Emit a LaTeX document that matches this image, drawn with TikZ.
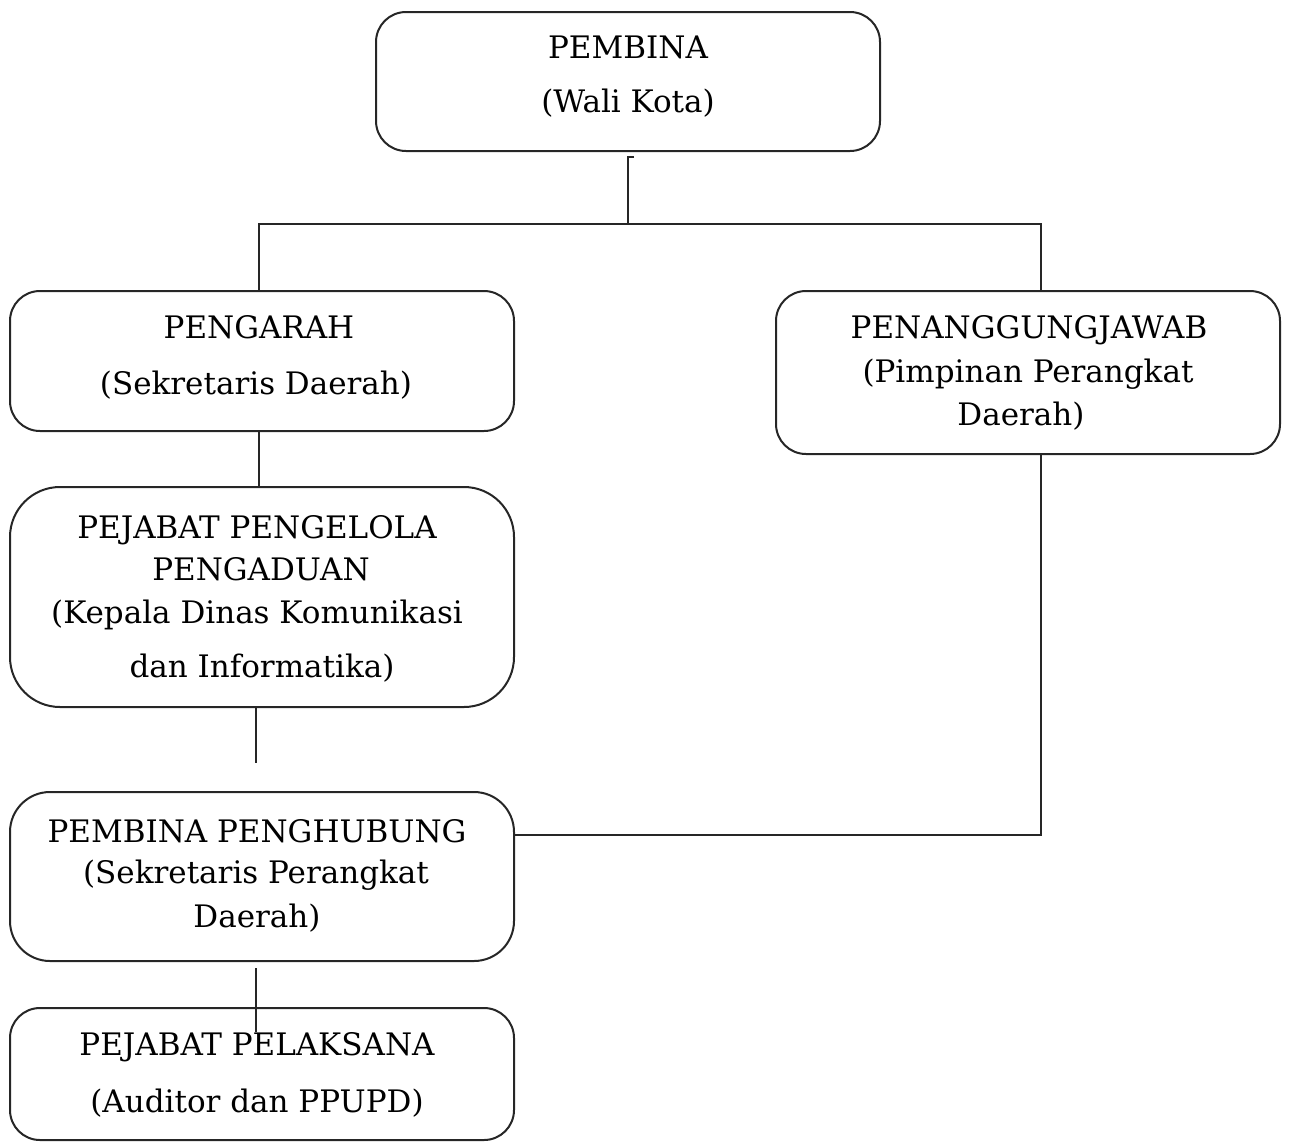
\documentclass[tikz,border=0pt]{standalone}
\usepackage{fontspec}
\setmainfont{DejaVu Serif}
\usetikzlibrary{calc}
\begin{document}
\begin{tikzpicture}[x=1pt,y=-1pt,
  box/.style={draw=black!85, line width=2pt, rectangle, inner sep=0pt, minimum width=504pt},
  conn/.style={draw=black!85, line width=2pt},
  lbl/.style={anchor=base, inner sep=0pt, font=\fontsize{31}{37}\selectfont, text=black}]
\useasboundingbox (0,0) rectangle (1290,1144);
% boxes
\node[box, rounded corners=30pt, minimum height=139pt] (pembina) at (628,81.5) {};
\node[box, rounded corners=30pt, minimum height=140pt] (pengarah) at (262,361) {};
\node[box, rounded corners=30pt, minimum height=163pt] (penanggung) at (1028,372.5) {};
\node[box, rounded corners=50pt, minimum height=220pt] (pengelola) at (262,597) {};
\node[box, rounded corners=40pt, minimum height=169pt] (penghubung) at (262,876.5) {};
\node[box, rounded corners=30pt, minimum height=132pt] (pelaksana) at (262,1074) {};
% coordinates
\coordinate (tick) at (634,157);
\coordinate (tickc) at (628,157);
\coordinate (junc) at (628,224);
\coordinate (jl) at (259,224);
\coordinate (jr) at (1041,224);
\coordinate (free1) at (256,763);
\coordinate (pr) at (1041,835);
\coordinate (t1) at (256,968);
\coordinate (t2) at (256,1032);
% connectors
\draw[conn] (tick) -- (tickc) -- (junc);
\draw[conn] (pengarah.north -| jl) -- (jl) -- (jr) -- (penanggung.north -| jr);
\draw[conn] (pengarah.south -| jl) -- (pengelola.north -| jl);
\draw[conn] (pengelola.south -| free1) -- (free1);
\draw[conn] (penanggung.south -| pr) -- (pr) -- (penghubung.east |- pr);
\draw[conn, line width=1.4pt] (t1) -- (t2);
% texts
\node[lbl] (a1) at (628,58) {PEMBINA};
\node[lbl] (a2) at (628,112) {(Wali Kota)};
\node[lbl] (b1) at (259,338) {PENGARAH};
\node[lbl] (b2) at (256,394) {(Sekretaris Daerah)};
\node[lbl] (c1) at (1029,338) {PENANGGUNGJAWAB};
\node[lbl] (c2) at (1028,382) {(Pimpinan Perangkat};
\node[lbl] (c3) at (1021,425) {Daerah)};
\node[lbl] (d1) at (257,538) {PEJABAT PENGELOLA};
\node[lbl] (d2) at (261,580) {PENGADUAN};
\node[lbl] (d3) at (257,623) {(Kepala Dinas Komunikasi};
\node[lbl] (d4) at (262,677) {dan Informatika)};
\node[lbl] (e1) at (257,842) {PEMBINA PENGHUBUNG};
\node[lbl] (e2) at (256,883) {(Sekretaris Perangkat};
\node[lbl] (e3) at (257,927) {Daerah)};
\node[lbl] (f1) at (257,1055) {PEJABAT PELAKSANA};
\node[lbl] (f2) at (257,1112) {(Auditor dan PPUPD)};
\end{tikzpicture}
\end{document}
